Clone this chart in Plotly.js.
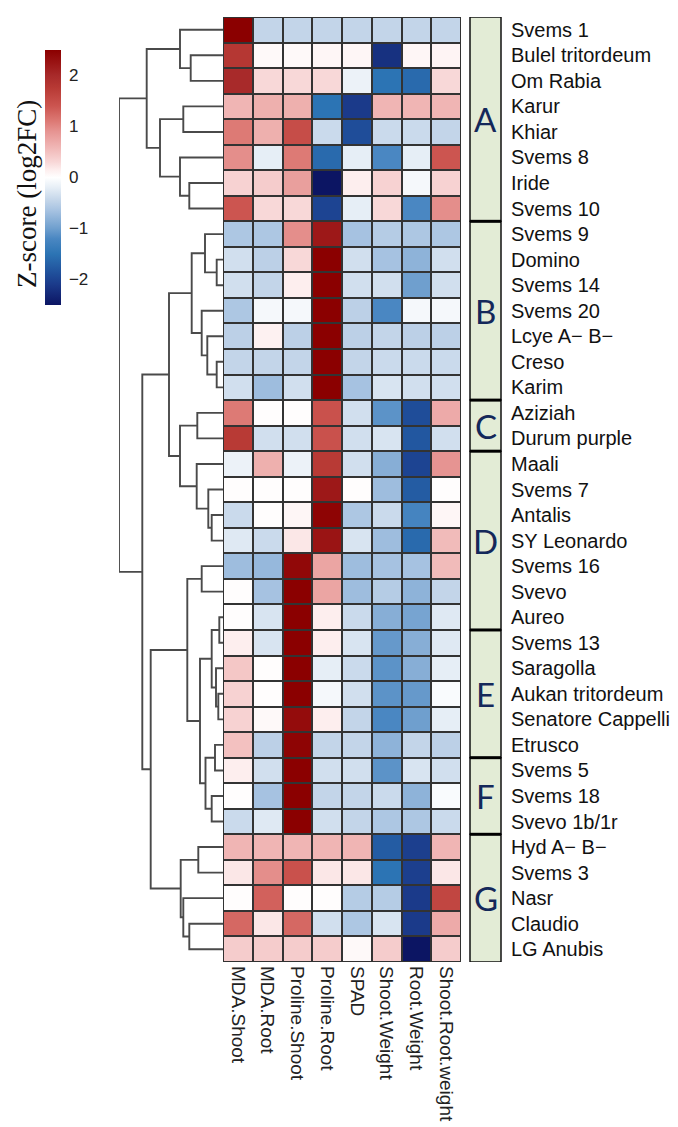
<!DOCTYPE html>
<html><head><meta charset="utf-8">
<script src="https://cdn.plot.ly/plotly-3.0.1.min.js"></script>
<style>html,body{margin:0;padding:0;background:#fff}#chart{width:678px;height:1127px}</style>
</head><body><div id="chart"></div>
<script>
// ---------- data ----------
const rowNames = ['Svems 1','Bulel tritordeum','Om Rabia','Karur','Khiar','Svems 8','Iride','Svems 10',
  'Svems 9','Domino','Svems 14','Svems 20','Lcye A\u2212 B\u2212','Creso','Karim',
  'Aziziah','Durum purple',
  'Maali','Svems 7','Antalis','SY Leonardo','Svems 16','Svevo','Aureo',
  'Svems 13','Saragolla','Aukan tritordeum','Senatore Cappelli','Etrusco',
  'Svems 5','Svems 18','Svevo 1b/1r',
  'Hyd A\u2212 B\u2212','Svems 3','Nasr','Claudio','LG Anubis'];
const colNames = ['MDA.Shoot','MDA.Root','Proline.Shoot','Proline.Root','SPAD','Shoot.Weight','Root.Weight','Shoot.Root.weight'];

const mdaShoot = [2.5,1.8,2.0,0.6,1.1,0.95,0.35,1.4,-0.6,-0.35,-0.35,-0.6,-0.5,-0.45,-0.35,1.1,1.75,-0.15,0.02,-0.4,-0.25,-0.7,0.02,0.02,0.15,0.45,0.35,0.35,0.5,0.15,0.02,-0.4,0.6,0.2,0.02,1.25,0.4];
const mdaRoot = [-0.45,0.05,0.3,0.65,0.65,-0.2,0.4,0.3,-0.6,-0.5,-0.45,-0.08,0.12,-0.45,-0.7,0.02,-0.35,0.65,0.02,0.02,-0.4,-0.75,-0.65,-0.3,-0.3,0.02,0.02,0.05,-0.5,-0.35,-0.65,-0.25,0.6,0.95,1.3,0.2,0.4];
const prolineShoot = [-0.45,0.05,0.3,0.65,1.5,1.1,0.8,0.3,0.95,0.3,0.15,-0.08,-0.5,-0.45,-0.35,0.02,-0.35,-0.15,0.02,0.08,0.2,2.4,2.5,2.5,2.5,2.5,2.5,2.35,2.45,2.5,2.5,2.5,0.6,1.45,0.02,1.25,0.4];
const prolineRoot = [-0.45,0.08,0.3,-1.5,-0.4,-1.6,-2.5,-2.0,2.2,2.5,2.5,2.5,2.5,2.5,2.5,1.45,1.45,1.75,2.2,2.45,2.25,0.75,0.75,0.15,0.15,-0.2,-0.08,0.15,-0.45,-0.35,-0.45,-0.35,0.6,0.2,0.02,-0.35,0.4];
const spad = [-0.45,0.08,-0.15,-2.1,-1.9,-0.2,0.15,-0.2,-0.65,-0.35,-0.35,-0.5,-0.5,-0.45,-0.65,-0.35,-0.35,-0.35,0.02,-0.6,-0.3,-0.7,-0.7,-0.4,-0.3,-0.4,-0.35,-0.45,-0.45,-0.35,-0.45,-0.45,0.6,0.2,-0.55,-0.6,0.05];
const shootWeight = [-0.45,-2.2,-1.5,0.6,-0.4,-1.2,0.35,0.3,-0.55,-0.65,-0.35,-1.2,-0.45,-0.4,-0.3,-1.1,-0.3,-0.85,-0.7,-0.4,-0.7,-0.65,-0.55,-0.85,-1.05,-1.1,-1.1,-1.2,-0.8,-1.1,-0.4,-0.6,-1.75,-1.5,-0.55,-0.3,0.4];
const rootWeight = [-0.45,0.08,-1.6,0.6,-0.4,-0.2,-0.08,-1.2,-0.6,-0.8,-1.0,-0.08,-0.5,-0.4,-0.35,-1.9,-1.8,-2.0,-1.75,-1.25,-1.6,-0.65,-0.8,-0.95,-0.85,-0.85,-1.05,-1.0,-0.45,-0.3,-0.8,-0.6,-2.05,-2.05,-2.1,-2.1,-2.5];
const shootRootWeight = [-0.45,0.1,0.3,0.6,-0.45,1.4,0.35,0.95,-0.6,-0.35,-0.35,-0.08,-0.5,-0.4,-0.35,0.7,-0.35,0.9,0.02,0.08,0.55,0.55,-0.45,-0.25,-0.25,-0.2,-0.05,-0.2,-0.5,-0.35,-0.05,-0.4,0.6,0.2,1.6,0.7,0.4];

const groupNames = ['A','B','C','D','E','F','G'];
const groupStart = [0,8,15,17,24,29,32];
const groupEnd   = [7,14,16,23,28,31,36];

// row dendrogram, hclust style: negative = leaf -(row+1), positive = earlier merge number (1-based)
const mergeLeft   = [-2,-1,-4,-7,-6,3,2,-10,-9,-14,-13,-12,9,-16,-20,-19,-18,14,13,-22,-24,-27,-26,21,-29,-31,25,24,20,-33,-36,-35,30,29,19,7];
const mergeRight  = [-3,1,-5,-8,4,5,6,-11,8,-15,10,11,12,-17,-21,15,16,17,18,-23,-25,-28,22,23,-30,-32,26,27,28,-34,-37,31,32,33,34,35];
const mergeHeight = [32.3,43,39.7,33.7,43,63,76.3,6.3,18,6.3,15.7,21.3,31.3,25.7,11.3,14.7,26.3,43,54,21.3,3.7,4.7,7,11.3,8,11.3,17.5,23,35.7,24.7,33.7,39.7,42.3,72.3,80.7,104];

const colorTicks = [-2,-1,0,1,2];
const zMin = -2.5, zMax = 2.5;

// ---------- build ----------
const W = 678, H = 1127;
const px = v => v / W;
const py = v => 1 - v / H;

const columns = [mdaShoot, mdaRoot, prolineShoot, prolineRoot, spad, shootWeight, rootWeight, shootRootWeight];
const z = rowNames.map((_, i) => columns.map(c => c[i]));
const xIdx = colNames.map((_, i) => i);
const yIdx = rowNames.map((_, i) => i);

const nodeY = [], nodeH = [];
function childPos(id) {
  if (id < 0) return {y: -id - 1, h: 0};
  return {y: nodeY[id - 1], h: nodeH[id - 1]};
}
const dX = [], dY = [];
for (let k = 0; k < mergeLeft.length; k++) {
  const a = childPos(mergeLeft[k]), b = childPos(mergeRight[k]);
  const h = mergeHeight[k];
  dX.push(a.h, h, h, b.h, null);
  dY.push(a.y, a.y, b.y, b.y, null);
  nodeY.push((a.y + b.y) / 2);
  nodeH.push(h);
}

const colorscale = [
  [0.00,'#0c1563'],[0.08,'#1b3a8a'],[0.12,'#1f4d99'],[0.20,'#2c74b4'],[0.26,'#4a87c2'],
  [0.30,'#6f9fce'],[0.37,'#a6c2e1'],[0.41,'#c3d5e9'],[0.46,'#e6eef6'],[0.50,'#ffffff'],
  [0.53,'#fdeeee'],[0.56,'#f8d8d8'],[0.62,'#f0b5b4'],[0.68,'#e69492'],[0.72,'#dd7a75'],
  [0.78,'#cc5550'],[0.85,'#b83a35'],[0.90,'#a82a2a'],[0.95,'#9a1414'],[1.00,'#8b0000']
];

const sans = 'Liberation Sans, Arial, sans-serif';

const traces = [
  {
    type: 'heatmap', x: xIdx, y: yIdx, z: z, zmin: zMin, zmax: zMax,
    colorscale: colorscale, xgap: 2, ygap: 2, hoverinfo: 'skip',
    colorbar: {
      x: px(45), xanchor: 'left', y: py(50), yanchor: 'top',
      len: 255 / H, lenmode: 'fraction', thickness: 16, thicknessmode: 'pixels',
      xpad: 0, ypad: 0, outlinewidth: 0,
      tickvals: colorTicks, ticks: 'outside', ticklen: 5, tickcolor: 'rgba(0,0,0,0)',
      tickfont: {family: sans, size: 17, color: '#222'}
    }
  },
  {
    type: 'scatter', mode: 'lines', x: dX, y: dY, xaxis: 'x2', yaxis: 'y',
    line: {color: '#4a4a4a', width: 1.9}, hoverinfo: 'skip', cliponaxis: false, showlegend: false
  }
];

const shapes = [{
  type: 'rect', xref: 'x', yref: 'y', x0: -0.5, x1: colNames.length - 0.5, y0: -0.5, y1: rowNames.length - 0.5,
  fillcolor: '#333333', line: {color: '#333333', width: 1.5}, layer: 'below'
}];
const annotations = [];
groupNames.forEach((g, i) => {
  shapes.push({
    type: 'rect', xref: 'paper', yref: 'y', x0: px(470), x1: px(501),
    y0: groupStart[i] - 0.5, y1: groupEnd[i] + 0.5,
    fillcolor: '#e3ecd6', line: {color: '#111', width: 1.5}
  });
  annotations.push({
    xref: 'paper', yref: 'y', x: px(485.5), y: (groupStart[i] + groupEnd[i]) / 2,
    xanchor: 'center', yanchor: 'middle',
    text: g, showarrow: false, font: {family: 'Lato, Open Sans, sans-serif', size: 33, color: '#14285a'}
  });
});
groupEnd.slice(0, -1).forEach(e => {
  shapes.push({type: 'line', xref: 'paper', yref: 'y', x0: px(470), x1: px(501), y0: e + 0.5, y1: e + 0.5,
    line: {color: '#000', width: 3}});
});
annotations.push({
  xref: 'paper', yref: 'paper', x: px(27), y: py(194), xanchor: 'center', yanchor: 'middle',
  text: 'Z-score (log2FC)', textangle: -90,
  showarrow: false, font: {family: 'Liberation Serif, Times New Roman, serif', size: 27, color: '#111'}
});

const layout = {
  width: W, height: H, autosize: false,
  margin: {l: 0, r: 0, t: 0, b: 0, pad: 0},
  paper_bgcolor: '#ffffff', plot_bgcolor: 'rgba(0,0,0,0)',
  showlegend: false,
  xaxis: {
    domain: [px(223), px(461)], range: [-0.5, colNames.length - 0.5], anchor: 'y',
    tickvals: xIdx, ticktext: colNames, tickangle: 90, ticks: '',
    showgrid: false, zeroline: false, showline: false,
    tickfont: {family: sans, size: 19, color: '#222'}, ticklabelstandoff: 3
  },
  yaxis: {
    domain: [py(962), py(17)], range: [rowNames.length - 0.5, -0.5],
    anchor: 'free', position: px(501), side: 'right',
    tickvals: yIdx, ticktext: rowNames, ticks: '',
    showgrid: false, zeroline: false, showline: false,
    tickfont: {family: sans, size: 20, color: '#111'}, ticklabelstandoff: 9
  },
  xaxis2: {
    domain: [px(119), px(223)], range: [104, 0], anchor: 'y', visible: false,
    showgrid: false, zeroline: false
  },
  shapes: shapes,
  annotations: annotations
};

Plotly.newPlot('chart', traces, layout, {displayModeBar: false, staticPlot: true});
</script>
</body></html>
